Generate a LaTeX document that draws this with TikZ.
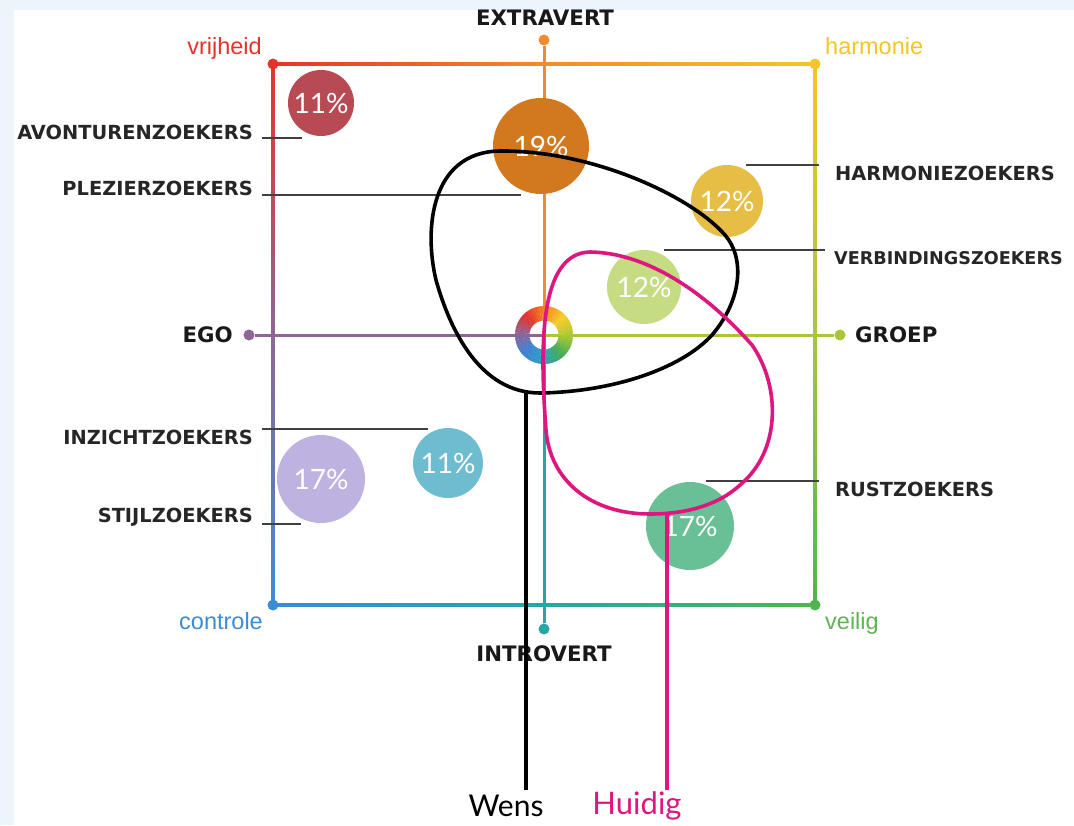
\documentclass[tikz,border=0pt]{standalone}
\usepackage{fontspec}
\setmainfont{Lato}
\newfontfamily\arialf{Liberation Sans}
\newfontfamily\dejaf{DejaVu Sans}
\definecolor{bgblue}{RGB}{236,245,250}
\definecolor{cR}{RGB}{230,52,40}
\definecolor{cO}{RGB}{240,140,45}
\definecolor{cY}{RGB}{244,198,40}
\definecolor{cYG}{RGB}{168,198,55}
\definecolor{cG}{RGB}{80,180,80}
\definecolor{cT}{RGB}{40,165,165}
\definecolor{cB}{RGB}{60,140,212}
\definecolor{cP}{RGB}{142,102,150}
\definecolor{wR}{RGB}{228,48,45}
\definecolor{wO}{RGB}{245,135,35}
\definecolor{wY}{RGB}{246,205,40}
\definecolor{wYG}{RGB}{170,200,50}
\definecolor{wG}{RGB}{70,172,85}
\definecolor{wT}{RGB}{40,160,195}
\definecolor{wB}{RGB}{60,130,212}
\definecolor{wP}{RGB}{140,100,150}
\definecolor{b11r}{RGB}{184,74,84}
\definecolor{b19}{RGB}{210,120,30}
\definecolor{b12y}{RGB}{230,190,70}
\definecolor{b12g}{RGB}{197,220,130}
\definecolor{b17l}{RGB}{190,178,225}
\definecolor{b11t}{RGB}{110,188,208}
\definecolor{b17g}{RGB}{105,192,150}
\definecolor{mag}{RGB}{222,22,128}
\definecolor{txtred}{RGB}{230,50,40}
\definecolor{txtyel}{RGB}{244,196,40}
\definecolor{txtblue}{RGB}{60,140,210}
\definecolor{txtgreen}{RGB}{95,180,85}
\begin{document}
\begin{tikzpicture}[x=1pt,y=-1pt,
  lbl/.style={font=\dejaf\fontsize{19.4}{20}\selectfont\bfseries, text=black!85, inner sep=0pt},
  axl/.style={font=\dejaf\fontsize{21.3}{22}\selectfont\bfseries, text=black!90, inner sep=0pt},
  crn/.style={font=\arialf\fontsize{23.5}{24}\selectfont, inner sep=0pt},
  pct/.style={circle, inner sep=0pt, text=white, font=\fontsize{28}{28}\selectfont},
  leader/.style={draw=black!75, line width=1.3pt},
  dot/.style={circle, inner sep=0pt, minimum size=11pt},
  blob/.style={line width=3.6pt, line join=round, line cap=round},
  tail/.style={line width=3.6pt}
]
\useasboundingbox (0,0) rectangle (1074,825);
\fill[bgblue] (0,0) rectangle (1074,825);
\fill[white] (14,10) rectangle (1074,825);

% square sides (gradients)
\shade[left color=cR, right color=cO] (273,62.5) rectangle (544,65.5);
\shade[left color=cO, right color=cY] (544,62.5) rectangle (815,65.5);
\shade[top color=cY, bottom color=cYG] (813.5,64) rectangle (816.5,335);
\shade[top color=cYG, bottom color=cG] (813.5,335) rectangle (816.5,605);
\shade[left color=cB, right color=cT] (273,603.5) rectangle (544,606.5);
\shade[left color=cT, right color=cG] (544,603.5) rectangle (815,606.5);
\shade[top color=cR, bottom color=cP] (271.5,64) rectangle (274.5,335);
\shade[top color=cP, bottom color=cB] (271.5,335) rectangle (274.5,605);

% corner dots
\node[dot, fill=cR] (vr) at (273,64) {};
\node[dot, fill=cY] (ha) at (815,64) {};
\node[dot, fill=cG] (ve) at (815,605) {};
\node[dot, fill=cB] (co) at (273,605) {};

% axes
\coordinate (ctr) at (544,335);
\node[dot, fill=cO] (ex) at (544,40) {};
\node[dot, fill=cT] (in) at (544,629) {};
\node[dot, fill=cP] (eg) at (249,335) {};
\node[dot, fill=cYG] (gr) at (840,335) {};
\draw[cO, line width=3pt] (ex) -- (ctr);
\draw[cT, line width=3pt] (in) -- (ctr);
\draw[cP, line width=3pt] (eg) -- (ctr);
\draw[cYG, line width=3pt] (gr) -- (ctr);

% corner labels
\node[crn, text=txtred, anchor=base east] (lvr) at (262,54) {vrijheid};
\node[crn, text=txtyel, anchor=base west] (lha) at (825,54) {harmonie};
\node[crn, text=txtblue, anchor=base east] (lco) at (263,629) {controle};
\node[crn, text=txtgreen, anchor=base west] (lve) at (825,629) {veilig};

% axis labels
\node[axl] (tex) at (545,18) {EXTRAVERT};
\node[axl] (tin) at (544,654) {INTROVERT};
\node[axl, anchor=east] (teg) at (233,335) {EGO};
\node[axl, anchor=west] (tgr) at (855,335) {GROEP};

% bubbles
\node[pct, fill=b11r, minimum size=66pt] (p1) at (321,103) {11\%};
\node[pct, fill=b19, minimum size=96pt] (p2) at (541,146) {19\%};
\node[pct, fill=b12y, minimum size=72pt] (p3) at (727,201) {12\%};
\node[pct, fill=b12g, minimum size=74pt] (p4) at (644,287) {12\%};
\node[pct, fill=b17l, minimum size=88pt] (p5) at (321,479) {17\%};
\node[pct, fill=b11t, minimum size=70pt] (p6) at (448,463) {11\%};
\node[pct, fill=b17g, minimum size=88pt] (p7) at (690,526) {17\%};

% colour ring
\foreach \a/\ca/\cb in {135/wR/wO, 90/wO/wY, 45/wY/wYG, 0/wYG/wG, -45/wG/wT, -90/wT/wB, -135/wB/wP, -180/wP/wR}{
  \foreach \i in {0,...,8}{
    \pgfmathsetmacro\s{-(\a-\i*5)}
    \pgfmathsetmacro\e{\s+5.4}
    \pgfmathsetmacro\p{\i*11.1}
    \fill[\cb!\p!\ca] ([shift={(ctr)}]\s:29) -- ([shift={(ctr)}]\e:29) -- ([shift={(ctr)}]\e:14.5) -- ([shift={(ctr)}]\s:14.5) -- cycle;
  }
}

% leader lines and labels
\node[lbl, anchor=east] (tav) at (253,132) {AVONTURENZOEKERS};
\coordinate (av1) at (262,138); \coordinate (av2) at (302,138);
\draw[leader] (av1) -- (av2);
\node[lbl, anchor=east] (tpl) at (253,188) {PLEZIERZOEKERS};
\coordinate (pl1) at (262,195); \coordinate (pl2) at (521,195);
\draw[leader] (pl1) -- (pl2);
\node[lbl, anchor=east] (tiz) at (253,437) {INZICHTZOEKERS};
\coordinate (iz1) at (262,429); \coordinate (iz2) at (428,429);
\draw[leader] (iz1) -- (iz2);
\node[lbl, anchor=east] (tst) at (253,517) {STIJLZOEKERS};
\coordinate (st1) at (262,524); \coordinate (st2) at (301,524);
\draw[leader] (st1) -- (st2);
\node[lbl, anchor=west] (thz) at (835,173) {HARMONIEZOEKERS};
\coordinate (hz1) at (746,165); \coordinate (hz2) at (819,165);
\draw[leader] (hz1) -- (hz2);
\node[lbl, anchor=west, font=\dejaf\fontsize{17.6}{18}\selectfont\bfseries] (tvb) at (834,258) {VERBINDINGSZOEKERS};
\coordinate (vb1) at (664,250); \coordinate (vb2) at (825,250);
\draw[leader] (vb1) -- (vb2);
\node[lbl, anchor=west] (trz) at (835,489) {RUSTZOEKERS};
\coordinate (rz1) at (706,481); \coordinate (rz2) at (819,481);
\draw[leader] (rz1) -- (rz2);

% Wens (black) blob
\draw[blob, black] (500,151) .. controls (590,150) and (690,195) .. (725,235)
  .. controls (745,258) and (742,300) .. (712,335)
  .. controls (680,370) and (610,392) .. (540,393)
  .. controls (480,393) and (450,330) .. (436,280)
  .. controls (424,230) and (430,152) .. cycle;
\coordinate (w1) at (526,392);
\coordinate (w2) at (526,790);
\draw[tail, black] (w1) -- (w2);
\node[font=\fontsize{30}{30}\selectfont, inner sep=0pt] (wens) at (506,806) {Wens};

% Huidig (magenta) blob
\draw[blob, mag] (590,252) .. controls (655,253) and (715,303) .. (752,345)
  .. controls (780,385) and (782,450) .. (740,485)
  .. controls (715,508) and (680,514) .. (650,514)
  .. controls (590,514) and (550,480) .. (546,430)
  .. controls (540,350) and (538,253) .. cycle;
\coordinate (h1) at (667,513);
\coordinate (h2) at (667,790);
\draw[tail, mag] (h1) -- (h2);
\node[font=\fontsize{31}{31}\selectfont, text=mag, inner sep=0pt] (huidig) at (637,806) {Huidig};
\end{tikzpicture}
\end{document}
